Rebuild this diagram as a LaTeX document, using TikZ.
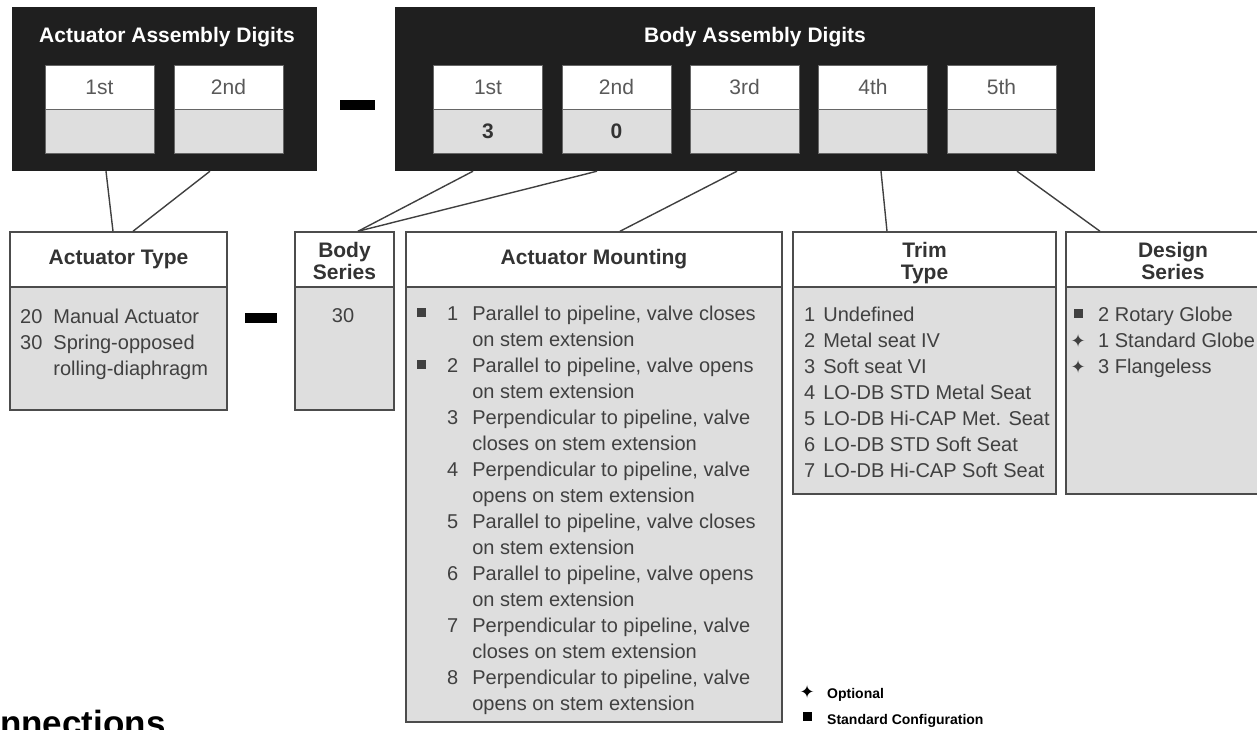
\documentclass[tikz,border=0pt]{standalone}
\usepackage{fontspec}
\setmainfont{Liberation Sans}
\newfontfamily\symfont{DejaVu Sans}
\newcommand{\stdmark}{\rule[3pt]{9pt}{9pt}}
\newcommand{\optmark}{{\symfont\bfseries\fontsize{18}{18}\selectfont ✦}}
\newcommand{\highstrut}{\rule{0pt}{25.4pt}}
\tikzset{
  blackbox/.style={fill=black!88, inner sep=0pt},
  digitlabel/.style={draw=black!60, line width=1pt, fill=white, minimum width=109pt, minimum height=44pt, inner sep=0pt, font=\fontsize{21}{24}\selectfont, text=black!65},
  digitvalue/.style={digitlabel, fill=black!13, font=\bfseries\fontsize{21}{24}\selectfont, text=black!80},
  headbox/.style={draw=black!70, line width=1.5pt, fill=white, minimum height=55pt, inner sep=0pt, align=center, font=\bfseries\fontsize{21}{22}\selectfont, text=black!80},
  listbox/.style={draw=black!70, line width=1.5pt, fill=black!13, inner sep=0pt},
  listtext/.style={anchor=base west, inner sep=0pt, font=\fontsize{20}{26}\selectfont, text=black!75},
  dashbar/.style={fill=black, inner sep=0pt},
  link/.style={draw=black!75, line width=1.4pt}
}
\begin{document}
\begin{tikzpicture}[x=1pt, y=-1pt]
  \useasboundingbox (0,0) rectangle (1257,729);
  \clip (0,0) rectangle (1257,729);
  % assembly digits
  \node[blackbox, minimum width=305pt, minimum height=164pt] (actbox) at (164.5,89) {};
  \node[blackbox, minimum width=700pt, minimum height=164pt] (bodybox) at (745,89) {};
  \node[text=white, font=\bfseries\fontsize{21}{24}\selectfont] (acttitle) at (167,37) {Actuator Assembly Digits};
  \node[text=white, font=\bfseries\fontsize{21}{24}\selectfont] (bodytitle) at (755,37) {Body Assembly Digits};
  \node[digitlabel] (a1) at (99.5,87) {1st};
  \node[digitvalue] (a1v) at (99.5,131) {};
  \node[digitlabel] (a2) at (228.5,87) {2nd};
  \node[digitvalue] (a2v) at (228.5,131) {};
  \node[digitlabel] (b1) at (488,87) {1st};
  \node[digitvalue] (b1v) at (488,131) {3};
  \node[digitlabel] (b2) at (616.5,87) {2nd};
  \node[digitvalue] (b2v) at (616.5,131) {0};
  \node[digitlabel] (b3) at (744.5,87) {3rd};
  \node[digitvalue] (b3v) at (744.5,131) {};
  \node[digitlabel] (b4) at (873,87) {4th};
  \node[digitvalue] (b4v) at (873,131) {};
  \node[digitlabel] (b5) at (1001.5,87) {5th};
  \node[digitvalue] (b5v) at (1001.5,131) {};
  \node[dashbar, minimum width=35pt, minimum height=10pt] (dash1) at (357.5,105) {};

  % option tables
  \node[listbox, minimum width=217pt, minimum height=123pt] (acttypelist) at (118.5,348.5) {};
  \node[headbox, minimum width=217pt] (acttype) at (118.5,259.5) {Actuator Type};
  \node[dashbar, minimum width=32pt, minimum height=10pt] (dash2) at (261,318) {};
  \node[listbox, minimum width=99pt, minimum height=123pt] (bodyserlist) at (344.5,348.5) {};
  \node[headbox, minimum width=99pt] (bodyser) at (344.5,259.5) {\highstrut Body\\\strut Series};
  \node[listbox, minimum width=376pt, minimum height=435pt] (mountlist) at (594,504.5) {};
  \node[headbox, minimum width=376pt] (mount) at (594,259.5) {Actuator Mounting};
  \node[listbox, minimum width=263pt, minimum height=207pt] (trimlist) at (924.5,390.5) {};
  \node[headbox, minimum width=263pt] (trim) at (924.5,259.5) {\highstrut Trim\\\strut Type};
  \node[listbox, minimum width=214pt, minimum height=207pt] (designlist) at (1173,390.5) {};
  \node[headbox, minimum width=214pt] (design) at (1173,259.5) {\highstrut Design\\\strut Series};

  \node[listtext] (acttypetext) at (20,323) {%
    \begin{tabular}[t]{@{}l@{\hspace{11pt}}l@{}}
      20 & Manual Actuator\\
      30 & Spring-opposed\\
         & rolling-diaphragm
    \end{tabular}};
  \node[listtext, anchor=base] (bodysertext) at (343,322) {30};
  \node[listtext] (mounttext) at (417,320) {%
    \begin{tabular}[t]{@{}l@{\hspace{21pt}}r@{\hspace{14pt}}l@{}}
      \stdmark & 1 & Parallel to pipeline, valve closes\\
               &   & on stem extension\\
      \stdmark & 2 & Parallel to pipeline, valve opens\\
               &   & on stem extension\\
               & 3 & Perpendicular to pipeline, valve\\
               &   & closes on stem extension\\
               & 4 & Perpendicular to pipeline, valve\\
               &   & opens on stem extension\\
               & 5 & Parallel to pipeline, valve closes\\
               &   & on stem extension\\
               & 6 & Parallel to pipeline, valve opens\\
               &   & on stem extension\\
               & 7 & Perpendicular to pipeline, valve\\
               &   & closes on stem extension\\
               & 8 & Perpendicular to pipeline, valve\\
               &   & opens on stem extension
    \end{tabular}};
  \node[listtext] (trimtext) at (804,321) {%
    \begin{tabular}[t]{@{}l@{\hspace{8pt}}l@{}}
      1 & Undefined\\
      2 & Metal seat IV\\
      3 & Soft seat VI\\
      4 & LO-DB STD Metal Seat\\
      5 & LO-DB Hi-CAP Met. Seat\\
      6 & LO-DB STD Soft Seat\\
      7 & LO-DB Hi-CAP Soft Seat
    \end{tabular}};
  \node[listtext] (designtext) at (1071,321) {%
    \begin{tabular}[t]{@{}l@{\hspace{13pt}}l@{}}
      \makebox[14pt]{\stdmark} & 2 Rotary Globe\\
      \makebox[14pt]{\optmark} & 1 Standard Globe\\
      \makebox[14pt]{\optmark} & 3 Flangeless
    \end{tabular}};

  % connectors
  \draw[link] ([xshift=6.5pt]actbox.south -| a1v) -- ([xshift=-5.5pt]acttype.north);
  \draw[link] ([xshift=-18.5pt]actbox.south -| a2v) -- ([xshift=14.5pt]acttype.north);
  \draw[link] ([xshift=-15pt]bodybox.south -| b1v) -- ([xshift=13.5pt]bodyser.north);
  \draw[link] ([xshift=-19.5pt]bodybox.south -| b2v) -- ([xshift=13.5pt]bodyser.north);
  \draw[link] ([xshift=-7.5pt]bodybox.south -| b3v) -- ([xshift=26pt]mount.north);
  \draw[link] ([xshift=8pt]bodybox.south -| b4v) -- ([xshift=-37.5pt]trim.north);
  \draw[link] ([xshift=15.5pt]bodybox.south -| b5v) -- ([xshift=-73pt]design.north);

  % legend
  \node[listtext, text=black, font=\bfseries\fontsize{14}{26}\selectfont] (legend) at (800,698) {%
    \begin{tabular}[t]{@{}l@{\hspace{13pt}}l@{}}
      \makebox[14pt]{\optmark} & Optional\\
      \makebox[14pt]{\stdmark} & Standard Configuration
    \end{tabular}};
  \node[anchor=base west, inner sep=0pt, font=\bfseries\fontsize{35}{35}\selectfont] (conntitle) at (0,735) {nnections};
\end{tikzpicture}
\end{document}
